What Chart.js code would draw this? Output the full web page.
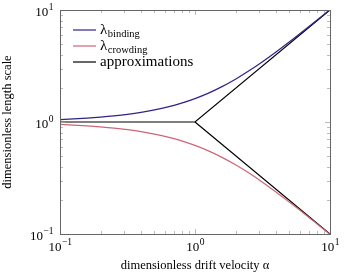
<!DOCTYPE html>
<html>
<head>
<meta charset="utf-8">
<script src="https://cdn.jsdelivr.net/npm/chart.js@4"></script>
<style>
  html, body { margin: 0; padding: 0; background: #fff; }
  #wrap { width: 345px; height: 277px; }
</style>
</head>
<body>
<div id="wrap"><canvas id="chart" width="345" height="277"></canvas></div>
<script>
// drift velocity alpha (log spaced)
const alpha = [0.1, 0.1259, 0.1585, 0.1995, 0.2512, 0.3162, 0.3981, 0.5012, 0.631, 0.7943,
  1, 1.259, 1.585, 1.995, 2.512, 3.162, 3.981, 5.012, 6.31, 7.943, 10]
const binding = [1.051, 1.065, 1.082, 1.105, 1.134, 1.171, 1.219, 1.282, 1.364, 1.473,
  1.618, 1.811, 2.069, 2.41, 2.862, 3.452, 4.218, 5.204, 6.465, 8.067, 10.1]
const crowding = [0.951, 0.939, 0.924, 0.905, 0.882, 0.854, 0.821, 0.780, 0.733, 0.679,
  0.618, 0.552, 0.483, 0.415, 0.350, 0.290, 0.237, 0.192, 0.155, 0.124, 0.099]
// approximations: flat below alpha=1, then alpha and 1/alpha
const approxX = [0.1, 1, 10, null, 1, 10]
const approxY = [1, 1, 10, null, 1, 0.1]
const majorTicks = [0.1, 1, 10]
const minorTicks = [0.2, 0.3, 0.4, 0.5, 0.6, 0.7, 0.8, 0.9, 2, 3, 4, 5, 6, 7, 8, 9]
const tickExp = ['\u22121', '0', '1']

const FONT = '"Liberation Serif", "DejaVu Serif", serif'
const toPoints = (xs, ys) => xs.map((x, i) => ({ x, y: ys[i] }))

const legendItems = [
  { sym: '\u03BB', sub: 'binding', color: '#332288' },
  { sym: '\u03BB', sub: 'crowding', color: '#CC6677' },
  { sym: 'approximations', sub: '', color: '#000' },
]

// draws "10" with a raised exponent; align: 'right' or 'center'
const powerLabel = (ctx, exp, x, base, align) => {
  ctx.font = '13px ' + FONT
  const w1 = ctx.measureText('10').width
  ctx.font = '9.5px ' + FONT
  const w2 = ctx.measureText(exp).width
  const x0 = align === 'right' ? x - w1 - w2 : x - (w1 + w2) / 2
  ctx.font = '13px ' + FONT
  ctx.fillText('10', x0, base)
  ctx.font = '9.5px ' + FONT
  ctx.fillText(exp, x0 + w1 + 0.5, base - 6)
}

// inner ticks on all four sides, like pgfplots, plus tick labels and legend
const decorations = {
  id: 'decorations',
  afterDraw(chart) {
    const { ctx, chartArea: a, scales: { x, y } } = chart
    ctx.save()
    ctx.strokeStyle = '#aaa'
    ctx.lineWidth = 0.8
    const draw = (list, len) => {
      list.forEach(v => {
        const px = Math.round(x.getPixelForValue(v)) + 0.5
        const py = Math.round(y.getPixelForValue(v)) + 0.5
        ctx.beginPath()
        if (v > 0.1 && v < 10) {
          ctx.moveTo(px, a.bottom); ctx.lineTo(px, a.bottom - len)
          ctx.moveTo(px, a.top); ctx.lineTo(px, a.top + len)
          ctx.moveTo(a.left, py); ctx.lineTo(a.left + len, py)
          ctx.moveTo(a.right, py); ctx.lineTo(a.right - len, py)
        }
        ctx.stroke()
      })
    }
    draw(minorTicks, 3)
    draw(majorTicks, 5)
    ctx.strokeStyle = '#666'
    ctx.lineWidth = 1
    ctx.strokeRect(Math.round(a.left) + 0.5, Math.round(a.top) + 0.5,
      Math.round(a.right - a.left), Math.round(a.bottom - a.top))

    // tick labels
    ctx.fillStyle = '#000'
    ctx.textBaseline = 'alphabetic'
    ctx.textAlign = 'left'
    majorTicks.forEach((v, i) => {
      powerLabel(ctx, tickExp[i], a.left - 7, y.getPixelForValue(v) + 6, 'right')
      powerLabel(ctx, tickExp[i], x.getPixelForValue(v), a.bottom + 17, 'center')
    })

    // legend
    legendItems.forEach((it, i) => {
      const yy = a.top + 20 + i * 16
      ctx.strokeStyle = it.color
      ctx.lineWidth = 1.2
      ctx.beginPath()
      ctx.moveTo(a.left + 13, yy); ctx.lineTo(a.left + 36, yy)
      ctx.stroke()
      ctx.fillStyle = '#000'
      ctx.font = '15px ' + FONT
      ctx.fillText(it.sym, a.left + 40, yy + 4)
      if (it.sub) {
        const w = ctx.measureText(it.sym).width
        ctx.font = '10.5px ' + FONT
        ctx.fillText(it.sub, a.left + 40 + w + 0.5, yy + 7)
      }
    })
    ctx.restore()
  }
}

new Chart(document.getElementById('chart'), {
  type: 'line',
  data: {
    datasets: [
      { label: 'binding', data: toPoints(alpha, binding), borderColor: '#332288', cubicInterpolationMode: 'monotone' },
      { label: 'crowding', data: toPoints(alpha, crowding), borderColor: '#CC6677', cubicInterpolationMode: 'monotone' },
      { label: 'approximations', data: toPoints(approxX, approxY), borderColor: '#000', tension: 0, spanGaps: false },
    ]
  },
  options: {
    responsive: false,
    animation: false,
    events: [],
    layout: { padding: { top: 10, right: 15, left: 0, bottom: 0 } },
    elements: {
      line: { borderWidth: 1.2, fill: false },
      point: { radius: 0 }
    },
    plugins: { legend: { display: false }, tooltip: { enabled: false } },
    scales: {
      x: {
        type: 'logarithmic', min: 0.1, max: 10,
        grid: { display: false },
        border: { display: false },
        ticks: { display: false },
        title: {
          display: true, text: 'dimensionless drift velocity \u03B1', color: '#000',
          font: { family: FONT, size: 12.5 }, padding: { top: 0, bottom: 4 }
        },
        afterFit: s => { s.height = 43 }
      },
      y: {
        type: 'logarithmic', min: 0.1, max: 10,
        grid: { display: false },
        border: { display: false },
        ticks: { display: false },
        title: {
          display: true, text: 'dimensionless length scale', color: '#000',
          font: { family: FONT, size: 12.5 }, padding: { top: 0, bottom: 4 }
        },
        afterFit: s => { s.width = 60 }
      }
    }
  },
  plugins: [decorations]
})
</script>
</body>
</html>
